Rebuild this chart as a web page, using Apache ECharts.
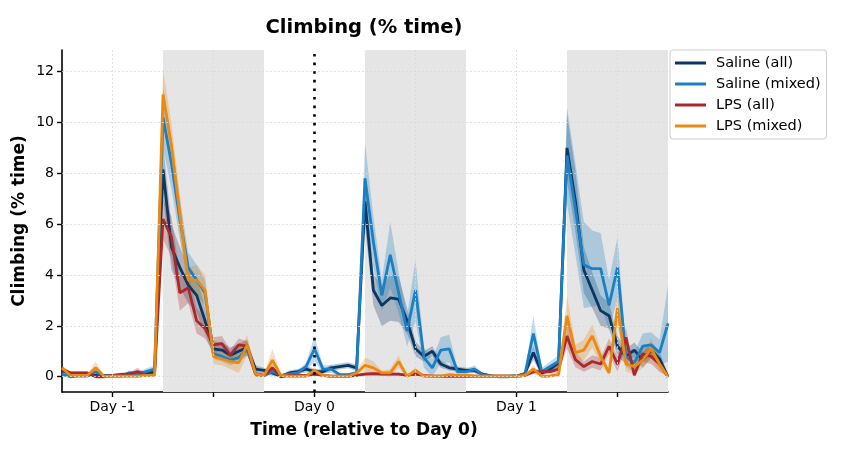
<!DOCTYPE html>
<html>
<head>
<meta charset="utf-8">
<script src="https://cdn.jsdelivr.net/npm/echarts@6/dist/echarts.min.js"></script>
<style>
  html, body { margin: 0; padding: 0; background: #fff; }
  #chart { width: 841px; height: 464px; }
</style>
</head>
<body>
<div id="chart"></div>
<script>
// hours relative to Day 0
var hours = [-30, -29, -28, -27, -26, -25, -24, -23, -22, -21, -20, -19,
    -18, -17, -16, -15, -14, -13, -12, -11, -10, -9, -8, -7,
    -6, -5, -4, -3, -2, -1, 0, 1, 2, 3, 4, 5,
    6, 7, 8, 9, 10, 11, 12, 13, 14, 15, 16, 17,
    18, 19, 20, 21, 22, 23, 24, 25, 26, 27, 28, 29,
    30, 31, 32, 33, 34, 35, 36, 37, 38, 39, 40, 41, 42];

var seriesNames = ['Saline (all)', 'Saline (mixed)', 'LPS (all)', 'LPS (mixed)'];

var salineAll = [0.25, 0.12, 0.08, 0.08, 0.05, 0.05, 0.05, 0.08, 0.1, 0.15, 0.12, 0.2,
    8.15, 5.1, 4.3, 3.6, 3.2, 2.2, 1.1, 1.05, 0.85, 1.0, 1.15, 0.3,
    0.25, 0.15, 0.02, 0.15, 0.2, 0.3, 0.2, 0.2, 0.35, 0.4, 0.45, 0.35,
    6.9, 3.4, 2.8, 3.1, 3.05, 2.2, 1.1, 0.8, 1.0, 0.5, 0.35, 0.3,
    0.25, 0.25, 0.1, 0.03, 0.02, 0.02, 0.03, 0.12, 0.95, 0.15, 0.3, 0.55,
    9.0, 6.9, 4.2, 3.4, 2.6, 2.4, 1.2, 0.8, 1.05, 0.65, 1.05, 0.7, 0.0];
var salineAllErr = [0.1, 0.08, 0.08, 0.08, 0.06, 0.06, 0.06, 0.08, 0.1, 0.1, 0.1, 0.12,
    1.0, 0.9, 0.8, 0.7, 0.7, 0.5, 0.3, 0.3, 0.3, 0.3, 0.3, 0.15,
    0.1, 0.12, 0.05, 0.1, 0.1, 0.12, 0.1, 0.1, 0.12, 0.12, 0.12, 0.12,
    1.0, 0.6, 0.8, 0.9, 0.9, 0.5, 0.3, 0.2, 0.2, 0.15, 0.1, 0.1,
    0.1, 0.1, 0.06, 0.03, 0.02, 0.02, 0.03, 0.08, 0.3, 0.1, 0.12, 0.15,
    1.3, 1.2, 0.9, 0.7, 0.6, 0.5, 0.4, 0.3, 0.3, 0.3, 0.3, 0.3, 0.05];

var salineMixed = [0.1, 0.0, 0.03, 0.03, 0.2, 0.02, 0.02, 0.03, 0.15, 0.1, 0.2, 0.3,
    10.2, 8.4, 6.2, 4.3, 3.8, 3.3, 0.9, 0.8, 0.65, 0.75, 1.1, 0.1,
    0.05, 0.2, 0.05, 0.1, 0.15, 0.4, 1.1, 0.3, 0.3, 0.08, 0.08, 0.15,
    7.8, 5.3, 3.2, 4.8, 3.3, 1.8, 3.4, 0.75, 0.35, 1.05, 1.1, 0.2,
    0.2, 0.3, 0.08, 0.03, 0.0, 0.0, 0.03, 0.1, 1.7, 0.2, 0.4, 0.6,
    8.7, 6.6, 4.4, 4.25, 4.25, 2.8, 4.3, 0.8, 0.55, 1.2, 1.25, 0.95, 2.1];
var salineMixedErr = [0.1, 0.05, 0.05, 0.05, 0.15, 0.05, 0.05, 0.05, 0.1, 0.1, 0.12, 0.15,
    1.2, 1.0, 0.8, 0.6, 0.6, 0.5, 0.2, 0.2, 0.2, 0.2, 0.25, 0.1,
    0.05, 0.12, 0.05, 0.08, 0.1, 0.15, 0.5, 0.15, 0.15, 0.05, 0.05, 0.1,
    1.4, 1.0, 0.6, 1.3, 0.8, 0.6, 1.2, 0.4, 0.35, 0.5, 0.55, 0.15,
    0.1, 0.15, 0.05, 0.03, 0.02, 0.02, 0.03, 0.08, 0.7, 0.15, 0.2, 0.25,
    1.9, 1.8, 1.7, 1.5, 1.4, 1.0, 1.2, 0.4, 0.4, 0.5, 0.5, 0.5, 1.5];

var lpsAll = [0.3, 0.15, 0.15, 0.15, 0.0, 0.0, 0.05, 0.05, 0.1, 0.2, 0.05, 0.1,
    6.2, 5.5, 3.3, 3.5, 2.2, 1.9, 1.25, 1.3, 0.85, 1.25, 1.2, 0.1,
    0.05, 0.35, 0.0, 0.05, 0.05, 0.05, 0.1, 0.05, 0.02, 0.02, 0.02, 0.05,
    0.1, 0.12, 0.1, 0.1, 0.1, 0.05, 0.1, 0.05, 0.02, 0.02, 0.02, 0.02,
    0.02, 0.02, 0.02, 0.02, 0.02, 0.02, 0.02, 0.05, 0.2, 0.2, 0.2, 0.3,
    1.6, 0.67, 0.4, 0.6, 0.5, 1.2, 0.5, 1.55, 0.06, 0.9, 0.8, 0.5, 0.0];
var lpsAllErr = [0.1, 0.08, 0.08, 0.08, 0.03, 0.03, 0.05, 0.05, 0.08, 0.15, 0.05, 0.08,
    0.8, 0.8, 0.7, 0.6, 0.5, 0.4, 0.3, 0.3, 0.2, 0.25, 0.2, 0.1,
    0.05, 0.15, 0.02, 0.05, 0.05, 0.05, 0.06, 0.05, 0.02, 0.02, 0.02, 0.04,
    0.06, 0.08, 0.06, 0.06, 0.06, 0.04, 0.06, 0.04, 0.02, 0.02, 0.02, 0.02,
    0.02, 0.02, 0.02, 0.02, 0.02, 0.02, 0.02, 0.04, 0.1, 0.1, 0.1, 0.15,
    0.5, 0.3, 0.2, 0.25, 0.25, 0.3, 0.3, 0.4, 0.2, 0.3, 0.3, 0.3, 0.05];

var lpsMixed = [0.35, 0.05, 0.05, 0.05, 0.35, 0.02, 0.02, 0.02, 0.02, 0.02, 0.05, 0.05,
    11.1, 9.1, 6.4, 3.8, 3.8, 3.4, 0.8, 0.7, 0.6, 0.55, 1.25, 0.1,
    0.05, 0.65, 0.05, 0.02, 0.02, 0.02, 0.25, 0.05, 0.02, 0.02, 0.02, 0.15,
    0.45, 0.35, 0.15, 0.15, 0.6, 0.02, 0.25, 0.02, 0.02, 0.02, 0.08, 0.05,
    0.05, 0.03, 0.02, 0.02, 0.02, 0.02, 0.02, 0.05, 0.3, 0.02, 0.03, 0.08,
    2.4, 0.95, 1.05, 1.6, 0.8, 0.15, 2.7, 0.5, 0.4, 0.65, 1.1, 0.5, 0.0];
var lpsMixedErr = [0.1, 0.05, 0.05, 0.05, 0.25, 0.02, 0.02, 0.02, 0.02, 0.02, 0.04, 0.04,
    1.0, 0.9, 0.8, 0.5, 0.6, 0.6, 0.3, 0.25, 0.3, 0.4, 0.4, 0.1,
    0.05, 0.45, 0.05, 0.02, 0.02, 0.02, 0.12, 0.04, 0.02, 0.02, 0.02, 0.1,
    0.3, 0.25, 0.1, 0.15, 0.25, 0.02, 0.1, 0.02, 0.02, 0.02, 0.05, 0.04,
    0.04, 0.02, 0.02, 0.02, 0.02, 0.02, 0.02, 0.04, 0.15, 0.02, 0.03, 0.05,
    0.8, 0.3, 0.4, 0.45, 0.3, 0.1, 0.6, 0.3, 0.3, 0.3, 0.4, 0.3, 0.05];

var colors = ['#0b3763', '#1a7fc3', '#a9282b', '#ea8a12'];

// dark phases (hours) and axis ticks
var darkPhases = [[-18, -6], [6, 18], [30, 42]];
var xTicks = [-24, -12, 0, 12, 24, 36];
var xLabelTicks = [-24, 0, 24];
var xLabels = ['Day -1', 'Day 0', 'Day 1'];
var yTicks = [0, 2, 4, 6, 8, 10, 12];

var means = [salineAll, salineMixed, lpsAll, lpsMixed];
var errs = [salineAllErr, salineMixedErr, lpsAllErr, lpsMixedErr];

function bandSeries(k) {
    var mean = means[k], err = errs[k];
    return {
        type: 'custom',
        z: 2,
        silent: true,
        encode: { x: 0, y: 1 },
        data: hours.map(function(h, i) { return [h, mean[i]]; }),
        renderItem: function(params, api) {
            if (params.dataIndex !== 0) return null;
            var pts = [];
            for (var i = 0; i < hours.length; i++) {
                pts.push(api.coord([hours[i], mean[i] + err[i]]));
            }
            for (var j = hours.length - 1; j >= 0; j--) {
                pts.push(api.coord([hours[j], Math.max(0, mean[j] - err[j])]));
            }
            return {
                type: 'polygon',
                shape: { points: pts },
                style: { fill: colors[k], opacity: 0.28 }
            };
        }
    };
}

function lineSeries(k) {
    return {
        name: seriesNames[k],
        type: 'line',
        z: 3,
        data: hours.map(function(h, i) { return [h, means[k][i]]; }),
        showSymbol: false,
        symbol: 'none',
        color: colors[k],
        lineStyle: { width: 2.8, color: colors[k] },
        emphasis: { disabled: true }
    };
}

var gridStyle = { color: '#d9d9d9', width: 0.8, type: [2, 2] };

var series = [{
    // background: dark phases and grid lines
    type: 'line',
    z: 1,
    silent: true,
    data: hours.map(function(h) { return [h, 0]; }),
    symbol: 'none',
    lineStyle: { opacity: 0 },
    markArea: {
        silent: true,
        itemStyle: { color: '#e5e5e5' },
        data: darkPhases.map(function(p) { return [{ xAxis: p[0] }, { xAxis: p[1] }]; })
    },
    markLine: {
        silent: true,
        symbol: 'none',
        label: { show: false },
        lineStyle: gridStyle,
        data: yTicks.map(function(v) { return { yAxis: v }; })
            .concat(xTicks.filter(function(v) { return v !== 0; }).map(function(v) { return { xAxis: v }; }))
    }
}, {
    type: 'line',
    z: 2,
    silent: true,
    data: [],
    markLine: {
        silent: true,
        symbol: 'none',
        label: { show: false },
        lineStyle: { color: '#000', width: 2.6, type: [2.6, 6] },
        data: [{ xAxis: 0 }]
    }
}];
for (var k = 0; k < 4; k++) series.push(bandSeries(k));
for (var m = 0; m < 4; m++) series.push(lineSeries(m));

var chart = echarts.init(document.getElementById('chart'), null, { renderer: 'canvas' });
chart.setOption({
    animation: false,
    textStyle: { fontFamily: 'DejaVu Sans' },
    grid: { left: 62, right: 173, top: 50, bottom: 72, outerBoundsMode: 'none' },
    xAxis: {
        type: 'value',
        min: -30,
        max: 42,
        axisLine: { onZero: false, lineStyle: { color: '#000', width: 1.6 } },
        axisTick: { customValues: xTicks, length: 5, lineStyle: { color: '#000', width: 1.4 } },
        axisLabel: {
            customValues: xLabelTicks,
            margin: 8,
            fontSize: 14,
            color: '#000',
            formatter: function(v) { return xLabels[xLabelTicks.indexOf(v)]; }
        },
        splitLine: { show: false }
    },
    yAxis: {
        type: 'value',
        min: -0.6,
        max: 12.85,
        axisLine: { show: true, onZero: false, lineStyle: { color: '#000', width: 1.6 } },
        axisTick: { show: true, customValues: yTicks, length: 5, lineStyle: { color: '#000', width: 1.4 } },
        axisLabel: { customValues: yTicks, margin: 8, fontSize: 14, color: '#000' },
        splitLine: { show: false }
    },
    legend: {
        orient: 'vertical',
        left: 670,
        top: 50,
        padding: [5, 6, 5, 5],
        itemGap: 5,
        itemWidth: 31,
        itemHeight: 3,
        icon: 'rect',
        borderColor: '#cccccc',
        borderWidth: 1,
        borderRadius: 3,
        backgroundColor: '#fff',
        textStyle: { fontSize: 14.5, color: '#000', lineHeight: 16, padding: [0, 0, 0, 5] },
        data: seriesNames
    },
    graphic: [{
        type: 'text',
        x: 364, y: 28,
        style: { text: 'Climbing (% time)', font: 'bold 19.5px "DejaVu Sans"', fill: '#000', textAlign: 'center', textVerticalAlign: 'middle' }
    }, {
        type: 'text',
        x: 364, y: 431,
        style: { text: 'Time (relative to Day 0)', font: 'bold 17px "DejaVu Sans"', fill: '#000', textAlign: 'center', textVerticalAlign: 'middle' }
    }, {
        type: 'text',
        x: 20, y: 221,
        rotation: Math.PI / 2,
        style: { text: 'Climbing (% time)', font: 'bold 17px "DejaVu Sans"', fill: '#000', textAlign: 'center', textVerticalAlign: 'middle' }
    }],
    series: series
});
</script>
</body>
</html>
